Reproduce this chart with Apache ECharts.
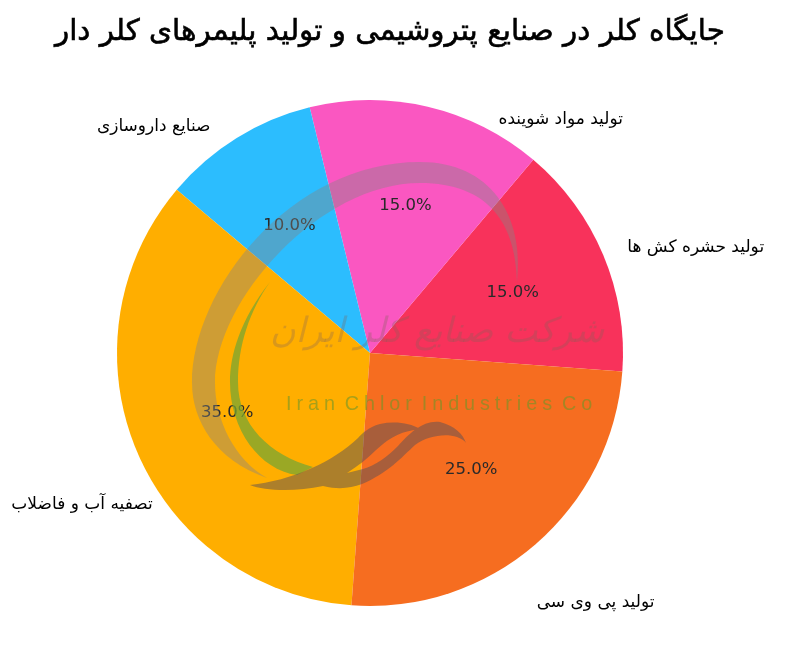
<!DOCTYPE html>
<html><head><meta charset="utf-8">
<style>html,body{margin:0;padding:0;background:#fff}#c{width:800px;height:652px}</style>
<script src="https://cdn.jsdelivr.net/npm/echarts@6/dist/echarts.min.js"></script>
</head><body><div id="c"></div>
<script>
const categories = ['تولید حشره کش ها','تولید مواد شوینده','صنایع داروسازی','تصفیه آب و فاضلاب','تولید پی وی سی'];
const values = [15,15,10,35,25];
const colors = ['#F8325B','#FA57C1','#2CBDFE','#FFAE00','#F66D20'];
const titleText = 'جایگاه کلر در صنایع پتروشیمی و تولید پلیمرهای کلر دار';
const labelShift = [[-4,2],[60,37],[-8,10],[44,44],[-20,39]];
const pctShift = [[0,0],[0,3],[1,4],[0,0],[0,0]];
const font = '"DejaVu Sans"';
const center = [370,353];
const R = 253;
const reg=(n,d)=>echarts.graphic.registerShape(n,echarts.graphic.extendPath(d,{}));
reg('wmRing','M267 478 C215 460 192 420 192 383 C192 290 290 162 420 162 C490 162 525 215 517 283 C516 225 490 183 420 183 C320 183 215 300 215 383 C215 420 235 460 267 478 Z');
reg('wmCrescent','M270 282 C240 320 230 355 230 382 C230 430 260 470 297 475 L313 467 C270 455 238 425 238 382 C238 345 250 310 270 282 Z');
reg('wmSwoosh','M250 485 C265 491 295 492 323 486 C340 490 350 488 362 484 C388 473 402 457 415 445 C427 436 445 433 457 437 C462 439 465 441 466 443 C463 434 455 426 440 422 C423 420 410 433 398 446 C388 456 375 466 363 469 L347 473 C358 466 368 458 376 450 C391 436 403 431 420 429 C410 423 395 421 380 424 C368 427 362 434 358 438 C345 450 330 460 312 468 C292 477 270 483 250 485 Z');
const chart = echarts.init(document.getElementById('c'),null,{renderer:'canvas'});
const pieBase = {type:'pie',center:center,clockwise:false,startAngle:-4.2,silent:true,animation:false,emphasis:{disabled:true}};
chart.setOption({
  animation:false,
  backgroundColor:'#fff',
  title:{text:titleText,left:50,top:13,textStyle:{fontFamily:font,fontSize:29.4,fontWeight:'normal',color:'#000',textBorderColor:'#000',textBorderWidth:0.6}},
  series:[
    Object.assign({},pieBase,{
      radius:[0,R],
      z:2,
      data:categories.map((n,i)=>({name:n,value:values[i],itemStyle:{color:colors[i]}})),
      labelLayout:p=>({dx:labelShift[p.dataIndex][0],dy:labelShift[p.dataIndex][1]}),
      label:{show:true,position:'outside',formatter:'{b}',fontFamily:font,fontSize:17,color:'#000',overflow:'none'},
      labelLine:{show:false,length:25,length2:0}
    }),
    Object.assign({},pieBase,{
      radius:[R*0.2,R],
      z:3,
      data:categories.map((n,i)=>({name:n,value:values[i],itemStyle:{color:'rgba(0,0,0,0)'}})),
      labelLayout:p=>({dx:pctShift[p.dataIndex][0],dy:pctShift[p.dataIndex][1]}),
      label:{show:true,position:'inside',formatter:p=>p.value.toFixed(1)+'%',fontFamily:font,fontSize:16.5,color:'#2a2a2a'},
      labelLine:{show:false}
    })
  ],
  graphic:{elements:[
    {type:'wmRing',z:10,style:{fill:'rgba(133,133,133,0.4)'}},
    {type:'wmCrescent',z:11,style:{fill:'rgba(120,165,50,0.75)'}},
    {type:'wmSwoosh',z:12,style:{fill:'rgba(90,80,85,0.5)'}},
    {type:'text',z:13,left:270,top:315,style:{text:'شرکت صنایع کلر ایران',fontFamily:font,fontSize:35,fontStyle:'italic',fill:'rgba(130,100,90,0.3)'}},
    {type:'text',z:13,left:286,top:395,style:{text:'I\u2005r\u2005a\u2005n\u2002C\u2005h\u2005l\u2005o\u2005r\u2002I\u2005n\u2005d\u2005u\u2005s\u2005t\u2005r\u2005i\u2005e\u2005s\u2002C\u2005o',fontFamily:'"Liberation Sans"',fontSize:19.8,fill:'rgba(110,150,40,0.6)'}}
  ]}
});
</script></body></html>
